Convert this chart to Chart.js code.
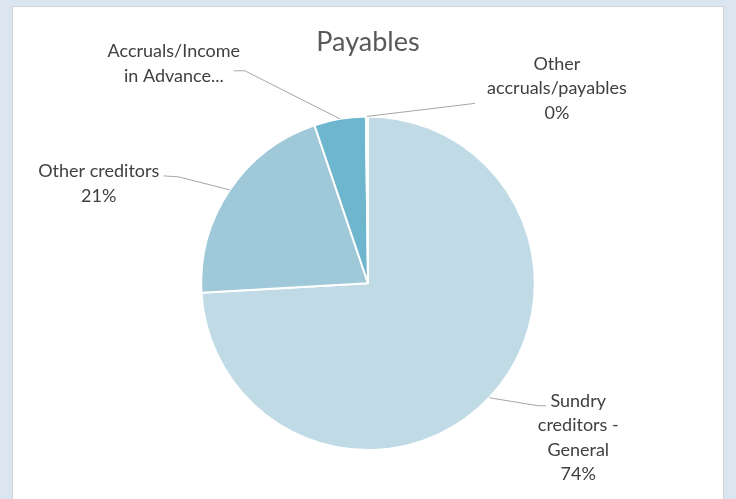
<!DOCTYPE html>
<html>
<head>
<meta charset="utf-8">
<script src="https://cdn.jsdelivr.net/npm/chart.js@4"></script>
<style>
  html, body { margin: 0; padding: 0; background: #dce6f1; width: 736px; height: 499px; overflow: hidden; }
  #card { position: absolute; left: 12px; top: 6px; width: 710px; height: 500px; background: #ffffff; border: 1px solid #d2d2d2; }
  #chart { display: block; }
</style>
</head>
<body>
<div id="card"><canvas id="chart" width="710" height="493"></canvas></div>
<script>
// Payables breakdown (share of total, %)
const categories = ['Sundry creditors - General', 'Other creditors', 'Accruals/Income in Advance', 'Other accruals/payables'];
const values = [74.1, 20.7, 5.0, 0.2];
const sliceColors = ['#c0dbe5', '#9fc8d9', '#6db6cd', '#4fa3bd'];

// Label text per slice (lines), whether to append the percentage
const labelLines = [['Sundry', 'creditors -', 'General'], ['Other creditors'], ['Accruals/Income', 'in Advance...'], ['Other', 'accruals/payables']];
const showPercent = [true, true, false, true];

// Label layout relative to the slice's outer-edge midpoint: text centre, leader elbow, leader end
const labelLayout = [
  { text: [89, 40],    elbow: [49, 8],    end: [57, 8] },
  { text: [-131, -6],  elbow: [-51, -13], end: [-66, -14] },
  { text: [-166, -55], elbow: [-95, -48], end: [-106, -48] },
  { text: [190, -28],  elbow: [108, -13], end: [108, -13] }
];

const FONT = 'Lato, "Open Sans", sans-serif';

const pieLabels = {
  id: 'pieLabels',
  afterDatasetsDraw(chart) {
    const ctx = chart.ctx;
    const meta = chart.getDatasetMeta(0);
    const data = chart.data.datasets[0].data;
    const total = data.reduce((a, b) => a + b, 0);
    ctx.save();
    meta.data.forEach((arc, i) => {
      const p = arc.getProps(['x', 'y', 'startAngle', 'endAngle', 'outerRadius'], true);
      const mid = (p.startAngle + p.endAngle) / 2;
      const ex = p.x + Math.cos(mid) * p.outerRadius;
      const ey = p.y + Math.sin(mid) * p.outerRadius;
      const L = labelLayout[i];
      // leader line
      ctx.strokeStyle = '#a6a6a6';
      ctx.lineWidth = 1;
      ctx.beginPath();
      ctx.moveTo(ex, ey);
      ctx.lineTo(ex + L.elbow[0], ey + L.elbow[1]);
      ctx.lineTo(ex + L.end[0], ey + L.end[1]);
      ctx.stroke();
      // text
      const lines = labelLines[i].slice();
      if (showPercent[i]) lines.push(Math.round(data[i] / total * 100) + '%');
      const lh = 24.5;
      const cx = ex + L.text[0];
      const cy = ey + L.text[1];
      ctx.fillStyle = '#404040';
      ctx.font = '18px ' + FONT;
      ctx.textAlign = 'center';
      ctx.textBaseline = 'middle';
      lines.forEach((t, k) => {
        ctx.fillText(t, cx, cy + (k - (lines.length - 1) / 2) * lh);
      });
    });
    ctx.restore();
  }
};

new Chart(document.getElementById('chart'), {
  type: 'pie',
  data: {
    labels: categories,
    datasets: [{
      data: values,
      backgroundColor: sliceColors,
      borderColor: '#ffffff',
      borderWidth: 2
    }]
  },
  options: {
    responsive: false,
    animation: false,
    layout: { padding: { top: 0, bottom: 49, left: 0, right: 0 } },
    plugins: {
      legend: { display: false },
      tooltip: { enabled: false },
      title: {
        display: true,
        text: 'Payables',
        color: '#595959',
        font: { family: FONT, size: 27, weight: 'normal' },
        padding: { top: 19, bottom: 57 }
      }
    }
  },
  plugins: [pieLabels]
});
</script>
</body>
</html>
